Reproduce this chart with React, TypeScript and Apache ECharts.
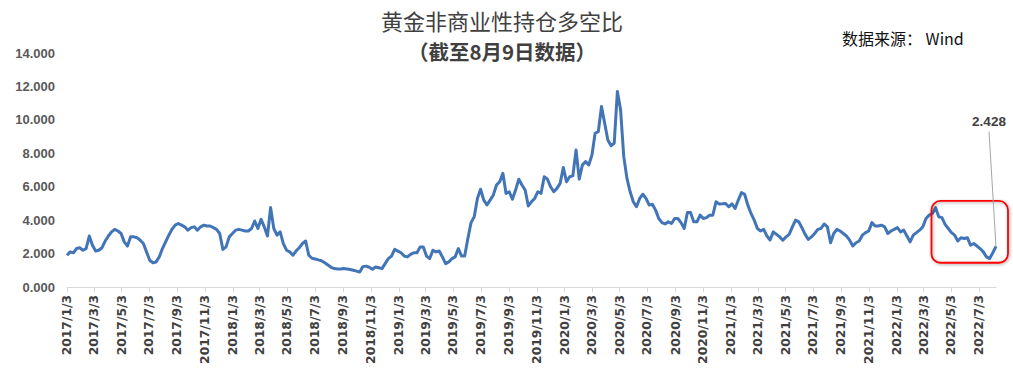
import React, { useEffect, useRef } from "react";
import * as echarts from "echarts";

// Weekly (every Tuesday) non-commercial long/short ratio of gold, 2017/1/3 – 2022/8/9
const START = [2017, 1, 3];
const ratio2017 = [
  1.9, 2.1, 2.05, 2.3, 2.35, 2.2, 2.3, 3.05, 2.5, 2.15, 2.2, 2.35, 2.75, 3.05, 3.3, 3.45, 3.35, 3.2, 2.7, 2.45,
  3.0, 3.0, 2.95, 2.8, 2.6, 2.1, 1.6, 1.45, 1.5, 1.8, 2.3, 2.7, 3.1, 3.45, 3.7, 3.8, 3.7, 3.6, 3.4, 3.55,
  3.6, 3.4, 3.6, 3.7, 3.65, 3.65, 3.55, 3.45, 3.2, 2.25, 2.4, 3.0,
];
const ratio2018 = [
  3.2, 3.4, 3.45, 3.4, 3.35, 3.35, 3.5, 3.95, 3.5, 4.05, 3.6, 3.05, 4.75, 3.5, 3.1, 3.3, 2.6, 2.2, 2.1, 1.9,
  2.15, 2.35, 2.6, 2.75, 1.9, 1.72, 1.68, 1.62, 1.57, 1.45, 1.32, 1.18, 1.1, 1.08, 1.08, 1.1, 1.08, 1.05, 1.0, 0.95,
  0.9, 1.22, 1.25, 1.18, 1.06, 1.2, 1.15, 1.1, 1.4, 1.7, 1.85, 2.25,
];
const ratio2019 = [
  2.15, 2.05, 1.85, 1.8, 1.95, 2.05, 2.05, 2.4, 2.4, 1.85, 1.7, 2.2, 2.1, 2.15, 1.8, 1.4, 1.5, 1.7, 1.8, 2.3,
  1.86, 1.86, 2.9, 3.85, 4.2, 5.3, 5.85, 5.2, 4.91, 5.2, 5.5, 6.1, 6.3, 6.8, 5.6, 5.7, 5.25, 5.8, 6.45, 6.1,
  5.8, 4.85, 5.1, 5.3, 5.7, 5.6, 6.6, 6.45, 6.0, 5.7, 5.9, 6.2, 7.15,
];
const ratio2020 = [
  6.3, 6.6, 6.65, 8.2, 6.45, 7.3, 7.5, 7.3, 7.9, 9.2, 9.3, 10.8, 9.8, 8.8, 8.45, 8.6, 11.7, 10.6, 7.8, 6.5,
  5.7, 5.1, 4.8, 5.3, 5.55, 5.3, 4.9, 4.95, 4.6, 4.1, 3.85, 3.77, 3.9, 3.8, 4.1, 4.1, 3.85, 3.5, 4.45, 4.45,
  3.9, 3.9, 4.3, 4.1, 4.15, 4.3, 4.3, 5.1, 4.97, 4.98, 5.0, 4.8,
];
const ratio2021 = [
  4.97, 4.7, 5.2, 5.65, 5.55, 4.9, 4.4, 4.0, 3.5, 3.35, 3.45, 3.05, 2.81, 3.3, 3.15, 3.0, 2.8, 3.0, 3.15, 3.6,
  4.0, 3.9, 3.55, 3.15, 2.85, 3.0, 3.2, 3.45, 3.5, 3.77, 3.6, 2.65, 3.2, 3.45, 3.35, 3.2, 3.05, 2.8, 2.45, 2.65,
  2.75, 3.1, 3.25, 3.35, 3.85, 3.65, 3.65, 3.7, 3.6, 3.2, 3.35, 3.45,
];
const ratio2022 = [
  3.55, 3.3, 3.4, 3.05, 2.7, 3.1, 3.25, 3.4, 3.6, 4.1, 4.3, 4.4, 4.75, 4.2, 4.15, 3.75, 3.5, 3.25, 3.1, 2.75,
  2.95, 2.9, 2.95, 2.5, 2.6, 2.45, 2.3, 2.1, 1.8, 1.7, 2.05, 2.428,
];
const yTicks = [0, 2, 4, 6, 8, 10, 12, 14];
const LAST_LABEL = "2.428";

const weekly = [...ratio2017, ...ratio2018, ...ratio2019, ...ratio2020, ...ratio2021, ...ratio2022];

// daily date categories (Excel date axis), weekly data placed every 7 days
const totalDays = (weekly.length - 1) * 7 + 1;
const categories: string[] = [];
{
  const d = new Date(START[0], START[1] - 1, START[2]);
  for (let i = 0; i < totalDays; i++) {
    categories.push(`${d.getFullYear()}/${d.getMonth() + 1}/${d.getDate()}`);
    d.setDate(d.getDate() + 1);
  }
}
const seriesData: (number | null)[] = categories.map(() => null);
weekly.forEach((v, i) => {
  seriesData[i * 7] = v;
});

const isMajor = (_: number, value: string) => {
  const p = value.split("/");
  return p[2] === "3" && Number(p[1]) % 2 === 1;
};

export default function App() {
  const ref = useRef<HTMLDivElement>(null);
  useEffect(() => {
    if (!ref.current) return;
    const chart = echarts.init(ref.current, undefined, { renderer: "svg" });
    chart.setOption({
      animation: false,
      backgroundColor: "#ffffff",
      grid: { left: 67, right: 17, top: 53, bottom: 97, containLabel: false },
      xAxis: {
        type: "category",
        data: categories,
        boundaryGap: false,
        axisLine: { show: true, lineStyle: { color: "#d9d9d9", width: 1 } },
        axisTick: { show: true, interval: isMajor, length: 5, lineStyle: { color: "#d9d9d9" } },
        axisLabel: {
          interval: isMajor,
          rotate: 90,
          margin: 8,
          color: "#404040",
          fontFamily: "DejaVu Sans",
          fontWeight: "bold",
          fontSize: 12.3,
        },
        splitLine: { show: false },
      },
      yAxis: {
        type: "value",
        min: yTicks[0],
        max: yTicks[yTicks.length - 1],
        interval: 2,
        axisLine: { show: false },
        axisTick: { show: false },
        splitLine: { show: false },
        axisLabel: {
          margin: 12,
          color: "#595959",
          fontFamily: "Liberation Sans, Arial",
          fontWeight: "bold",
          fontSize: 13,
          formatter: (v: number) => v.toFixed(3),
        },
      },
      series: [
        {
          type: "line",
          data: seriesData,
          connectNulls: true,
          showSymbol: false,
          symbol: "none",
          lineStyle: { color: "#4275b8", width: 3, join: "round" },
          itemStyle: { color: "#4275b8" },
        },
      ],
    });

    const lastIdx = totalDays - 1;
    const lastVal = weekly[weekly.length - 1];
    const pLast = chart.convertToPixel({ xAxisIndex: 0, yAxisIndex: 0 }, [lastIdx, lastVal]) as number[];
    const pRectTL = chart.convertToPixel({ xAxisIndex: 0, yAxisIndex: 0 }, [272 * 7 - 2, 5.15]) as number[];
    const pRectBR = chart.convertToPixel({ xAxisIndex: 0, yAxisIndex: 0 }, [lastIdx, 1.45]) as number[];
    const pLabel = chart.convertToPixel({ xAxisIndex: 0, yAxisIndex: 0 }, [lastIdx, 9.9]) as number[];

    chart.setOption({
      graphic: [
        {
          type: "text",
          x: 502,
          y: 20,
          style: {
            text: "黄金非商业性持仓多空比",
            fontFamily: "Noto Sans CJK SC",
            fontSize: 22,
            fontWeight: "normal",
            fill: "#404040",
            align: "center",
            verticalAlign: "middle",
          },
        },
        {
          type: "text",
          x: 502,
          y: 51,
          style: {
            text: "（截至8月9日数据）",
            fontFamily: "Noto Sans CJK SC",
            fontSize: 20.5,
            fontWeight: "bold",
            fill: "#404040",
            align: "center",
            verticalAlign: "middle",
          },
        },
        {
          type: "text",
          x: 842,
          y: 38,
          style: {
            text: "数据来源： Wind",
            fontFamily: "Noto Sans CJK SC",
            fontSize: 16,
            fill: "#111111",
            align: "left",
            verticalAlign: "middle",
          },
        },
        {
          type: "rect",
          shape: {
            x: pRectTL[0],
            y: pRectTL[1],
            width: pRectBR[0] + 12 - pRectTL[0],
            height: pRectBR[1] - pRectTL[1],
            r: 9,
          },
          style: {
            fill: "none",
            stroke: "#ff0000",
            lineWidth: 1.8,
            shadowBlur: 3,
            shadowColor: "rgba(0,0,0,0.35)",
            shadowOffsetX: 1,
            shadowOffsetY: 1,
          },
          z: 10,
        },
        {
          type: "line",
          shape: { x1: pLast[0] - 7, y1: pLabel[1] + 10, x2: pLast[0], y2: pLast[1] },
          style: { stroke: "#a6a6a6", lineWidth: 1 },
          z: 10,
        },
        {
          type: "text",
          x: pLast[0] - 7,
          y: pLabel[1],
          style: {
            text: LAST_LABEL,
            fontFamily: "Liberation Sans, Arial",
            fontWeight: "bold",
            fontSize: 13.5,
            fill: "#404040",
            align: "center",
            verticalAlign: "middle",
          },
          z: 10,
        },
      ],
    });

    return () => chart.dispose();
  }, []);

  return (
    <div
      ref={ref}
      style={{ position: "absolute", left: 0, top: 0, width: 1013, height: 384, background: "#fff" }}
    />
  );
}
